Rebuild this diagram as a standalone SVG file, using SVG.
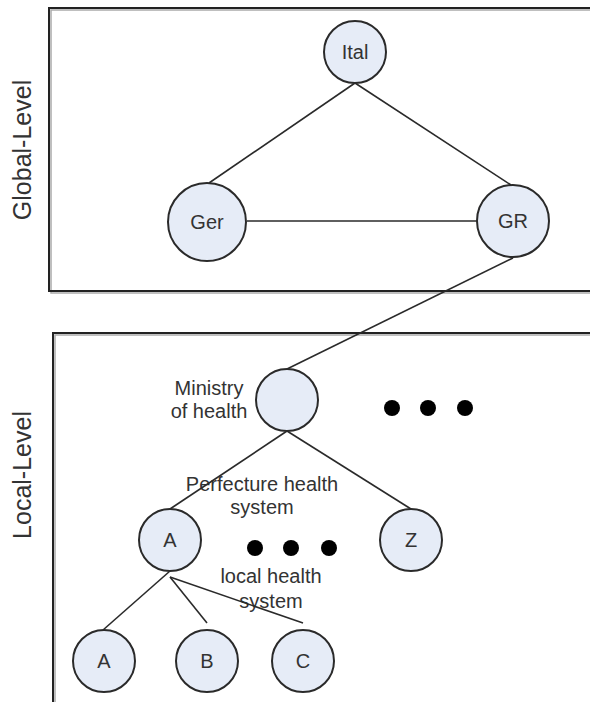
<svg xmlns="http://www.w3.org/2000/svg" width="590" height="702" viewBox="0 0 590 702">
<style>
  .frame { fill: none; stroke: #222; stroke-width: 2; }
  .shadow { fill: none; stroke: #aaa; stroke-width: 1.5; }
  .node { fill: #e6ecf7; stroke: #2a2a2a; stroke-width: 2; }
  .lbl { font-family: "Liberation Sans", Arial, sans-serif; font-size: 20px; fill: #333; text-anchor: middle; }
  .side { font-family: "Liberation Sans", Arial, sans-serif; font-size: 25px; fill: #333; text-anchor: middle; }
  .edge { stroke: #2a2a2a; stroke-width: 1.6; fill: none; }
  .dot { fill: #000; }
</style>
<rect x="0" y="0" width="590" height="702" fill="#fff"/>

<g id="global-level">
  <rect class="shadow" x="51" y="10" width="560" height="283"/>
  <rect class="frame" x="49" y="8" width="560" height="283"/>
  <text class="side" transform="translate(31,150) rotate(-90)">Global-Level</text>
</g>
<g id="local-level">
  <rect class="shadow" x="55" y="335" width="560" height="400"/>
  <rect class="frame" x="53" y="333" width="560" height="400"/>
  <text class="side" transform="translate(31,475) rotate(-90)">Local-Level</text>
</g>

<g id="labels">
  <text class="lbl" x="209" y="395">Ministry</text>
  <text class="lbl" x="209" y="418">of health</text>
  <text class="lbl" x="262" y="491">Perfecture health</text>
  <text class="lbl" x="262" y="514">system</text>
  <text class="lbl" x="271" y="583">local health</text>
  <text class="lbl" x="271" y="608">system</text>
</g>

<g id="connectors">
  <line class="edge" x1="355" y1="83" x2="209" y2="183"/>
  <line class="edge" x1="355" y1="83" x2="511" y2="185"/>
  <line class="edge" x1="247" y1="221" x2="477" y2="221"/>
  <line class="edge" x1="513" y1="258" x2="287" y2="369"/>
  <line class="edge" x1="287" y1="431" x2="170" y2="509"/>
  <line class="edge" x1="287" y1="431" x2="411" y2="509"/>
  <line class="edge" x1="170" y1="571" x2="103" y2="630"/>
  <line class="edge" x1="170" y1="577" x2="207" y2="623"/>
  <line class="edge" x1="170" y1="577" x2="303" y2="623"/>
</g>

<g id="dots-top">
  <circle class="dot" cx="392" cy="408" r="8"/>
  <circle class="dot" cx="428" cy="408" r="8"/>
  <circle class="dot" cx="465" cy="408" r="8"/>
</g>
<g id="dots-mid">
  <circle class="dot" cx="255" cy="548" r="8"/>
  <circle class="dot" cx="291" cy="548" r="8"/>
  <circle class="dot" cx="329" cy="548" r="8"/>
</g>

<g id="node-ital"><circle class="node" cx="355" cy="52" r="31"/><text class="lbl" x="355" y="59">Ital</text></g>
<g id="node-ger"><circle class="node" cx="207" cy="222" r="39"/><text class="lbl" x="207" y="229">Ger</text></g>
<g id="node-gr"><circle class="node" cx="513" cy="221" r="36"/><text class="lbl" x="513" y="228">GR</text></g>
<g id="node-ministry"><circle class="node" cx="287" cy="400" r="31"/></g>
<g id="node-a1"><circle class="node" cx="170" cy="540" r="31"/><text class="lbl" x="170" y="547">A</text></g>
<g id="node-z"><circle class="node" cx="411" cy="540" r="31"/><text class="lbl" x="411" y="547">Z</text></g>
<g id="node-a2"><circle class="node" cx="104" cy="661" r="31"/><text class="lbl" x="104" y="668">A</text></g>
<g id="node-b"><circle class="node" cx="207" cy="661" r="31"/><text class="lbl" x="207" y="668">B</text></g>
<g id="node-c"><circle class="node" cx="303" cy="661" r="31"/><text class="lbl" x="303" y="668">C</text></g>
</svg>
